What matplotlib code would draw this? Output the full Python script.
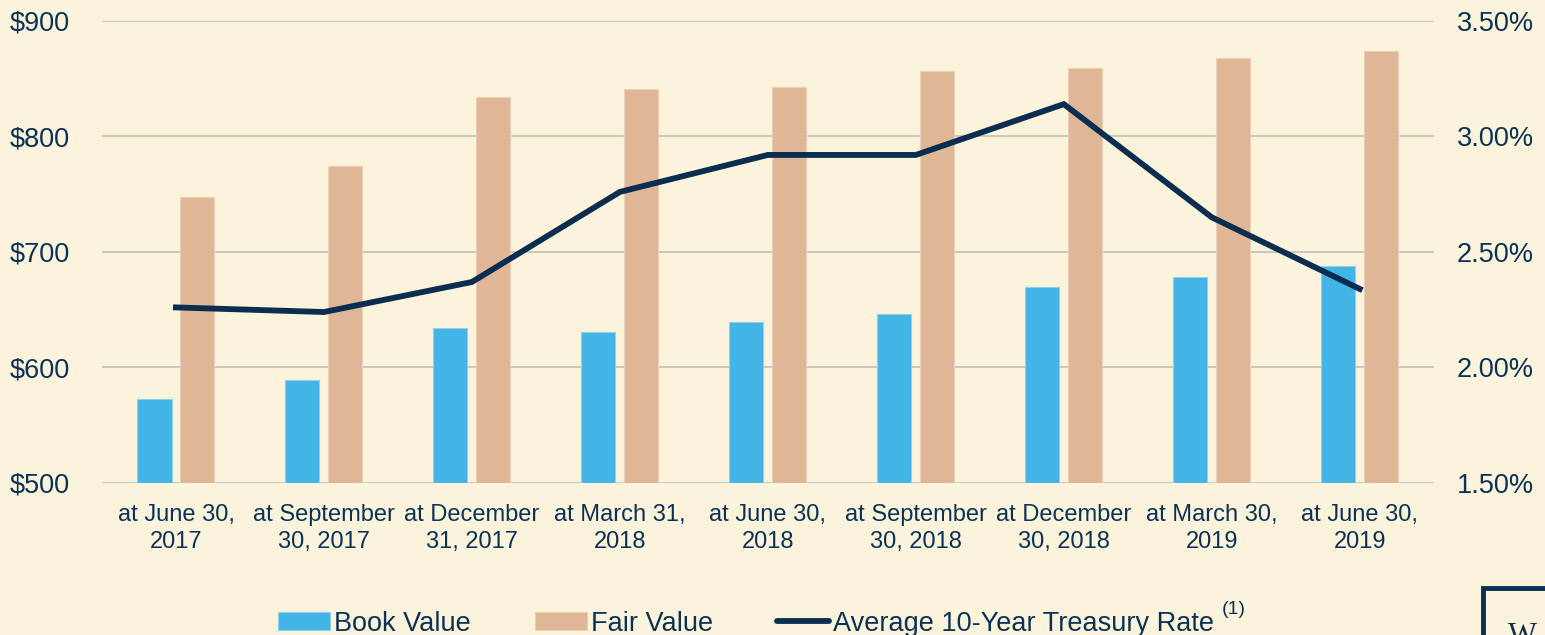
import numpy as np
import matplotlib
matplotlib.use("Agg")
import matplotlib.pyplot as plt
from matplotlib.patches import Rectangle
from matplotlib.ticker import FuncFormatter

# data
labels = ["at June 30,\n2017", "at September\n30, 2017", "at December\n31, 2017",
          "at March 31,\n2018", "at June 30,\n2018", "at September\n30, 2018",
          "at December\n30, 2018", "at March 30,\n2019", "at June 30,\n2019"]
book_value = [573, 589, 634, 631, 639, 646, 670, 678, 688]
fair_value = [748, 774, 834, 841, 843, 857, 859, 868, 874]
treasury_rate = [2.26, 2.24, 2.37, 2.76, 2.92, 2.92, 3.14, 2.65, 2.34]

bg = "#FCF3DC"
navy = "#0B3255"
blue = "#42B4E6"
tan = "#DFB696"
line_col = "#0A2D50"
grid_col = "#C2C0BA"
xfs = 17
yfs = 19.5

plt.rcParams["font.family"] = ["Liberation Sans", "DejaVu Sans"]
plt.rcParams["font.size"] = xfs

fig = plt.figure(figsize=(15.45, 6.35), dpi=100, facecolor=bg)
ax = fig.add_axes([0.066, 0.2394, 0.862, 0.7276])
ax.set_facecolor(bg)
ax2 = ax.twinx()

x = np.arange(len(labels))
w = 0.23
ax.bar(x - 0.145, np.array(book_value) - 500, bottom=500, width=w, color=blue,
       edgecolor="#8FD0EE", linewidth=0.8, label="Book Value", zorder=2)
ax.bar(x + 0.145, np.array(fair_value) - 500, bottom=500, width=w, color=tan,
       edgecolor="#EBCFB6", linewidth=0.8, label="Fair Value", zorder=2)

ax.set_ylim(500, 900)
ax.set_xlim(-0.5, len(labels) - 0.5)
ax.set_yticks([500, 600, 700, 800, 900])
ax.yaxis.set_major_formatter(FuncFormatter(lambda v, p: "${:.0f}".format(v)))
ax.grid(axis="y", color=grid_col, linewidth=1.2, zorder=0)
ax.set_axisbelow(True)
ax.set_xticks(x)
ax.set_xticklabels(labels, linespacing=1.28)
ax.tick_params(axis="both", length=0, colors=navy)
ax.tick_params(axis="y", pad=23, labelsize=yfs)
ax.tick_params(axis="x", pad=15, labelsize=xfs)
for s in ax.spines.values():
    s.set_visible(False)

ax2.plot(x, treasury_rate, color=line_col, linewidth=4.2, solid_joinstyle="miter",
         label="Average 10-Year Treasury Rate", zorder=3)
ax2.set_ylim(1.5, 3.5)
ax2.set_yticks([1.5, 2.0, 2.5, 3.0, 3.5])
ax2.yaxis.set_major_formatter(FuncFormatter(lambda v, p: "{:.2f}%".format(v)))
ax2.tick_params(axis="y", length=0, colors=navy, labelsize=yfs, pad=16.5)
for s in ax2.spines.values():
    s.set_visible(False)

h1, l1 = ax.get_legend_handles_labels()
h2, l2 = ax2.get_legend_handles_labels()
leg = fig.legend(h1 + h2, l1 + l2, loc="center", bbox_to_anchor=(0.483, 0.018),
                 ncol=3, frameon=False, fontsize=yfs, handlelength=1.93,
                 handleheight=0.6, handletextpad=0.15, columnspacing=2.35,
                 borderpad=0)
for t in leg.get_texts():
    t.set_color(navy)
leg.get_lines()[0].set_solid_capstyle("round")

# superscript note marker after the last legend entry
fig.canvas.draw()
bb = leg.get_texts()[-1].get_window_extent()
fw, fh = fig.get_size_inches() * fig.dpi
fig.text(bb.x1 / fw + 0.005, 1 - 618 / fh, "(1)", fontsize=14, color=navy,
         ha="left", va="bottom")

# partial logo box at the bottom right corner
fig.patches.append(Rectangle((1483 / fw, -0.05), 0.2, (635 - 588) / fh + 0.05,
                             transform=fig.transFigure, fill=False,
                             edgecolor=line_col, linewidth=3.5))
fig.text(1508 / fw, -0.025, "W", family="Liberation Serif", fontsize=22,
         color=line_col, ha="left", va="bottom")

fig.savefig("out.png", dpi=100, facecolor=bg)
